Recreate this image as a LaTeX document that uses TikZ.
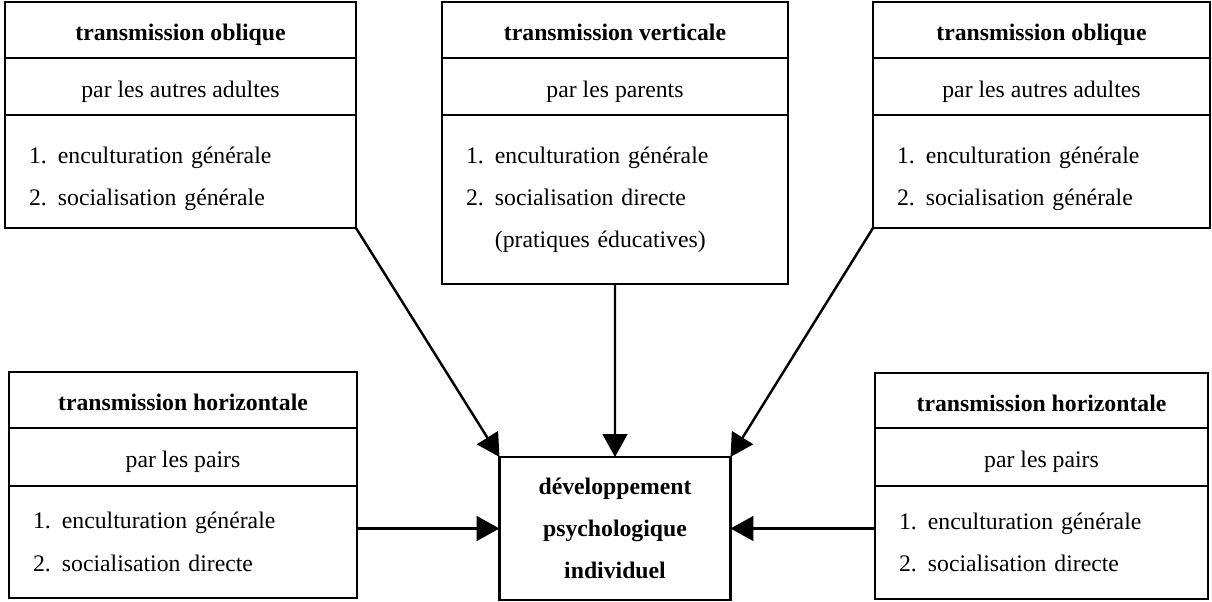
\documentclass[tikz,border=0pt]{standalone}
\usepackage{fontspec}
\setmainfont{Liberation Serif}
\usepackage{tikz}
\usetikzlibrary{positioning}
\usetikzlibrary{arrows.meta}
\newcommand{\numitem}[2]{\makebox[1.22em][l]{#1.}#2}

\begin{document}
\begin{tikzpicture}[font=\fontsize{13.5}{24}\selectfont]
\tikzset{
  every node/.style={outer sep=0pt},
  head/.style={draw,line width=1.4pt,inner sep=0pt,minimum height=1.12cm,text height=15.4pt,text depth=3pt,font=\fontsize{13.5}{24}\selectfont\bfseries},
  sub/.style={draw,line width=1.4pt,inner sep=0pt,minimum height=1.14cm,text height=15.4pt,text depth=3pt},
  lst/.style={draw,line width=1.4pt,inner xsep=0.48cm,inner ysep=0pt,align=left,minimum height=2.26cm},
  flow/.style={line width=1.4pt,-{Triangle[length=13pt,width=14pt]}}
}
\useasboundingbox (0,0) rectangle (24.24,-12.04);

% oblique, left
\node [head,anchor=north west,minimum width=7.02cm] (oblLt) at (0.10,-0.04) {transmission oblique};
\node [sub,minimum width=7.02cm,below=0pt of oblLt] (oblLs) {par les autres adultes};
\node [lst,text width=6.06cm,below=0pt of oblLs] (oblLl) {\rule{0pt}{17.5pt}\numitem{1}{enculturation générale}\\\numitem{2}{socialisation générale}};

% vertical
\node [head,anchor=north west,minimum width=6.92cm] (vertt) at (8.84,-0.04) {transmission verticale};
\node [sub,minimum width=6.92cm,below=0pt of vertt] (verts) {par les parents};
\node [lst,text width=5.96cm,minimum height=3.38cm,below=0pt of verts] (vertl) {\numitem{1}{enculturation générale}\\\numitem{2}{socialisation directe}\\\hspace*{1.22em}(pratiques éducatives)};

% oblique, right
\node [head,anchor=north west,minimum width=6.74cm] (oblRt) at (17.46,-0.04) {transmission oblique};
\node [sub,minimum width=6.74cm,below=0pt of oblRt] (oblRs) {par les autres adultes};
\node [lst,text width=5.78cm,below=0pt of oblRs] (oblRl) {\rule{0pt}{17.5pt}\numitem{1}{enculturation générale}\\\numitem{2}{socialisation générale}};

% horizontal, left
\node [head,anchor=north west,minimum width=6.96cm] (horLt) at (0.18,-7.44) {transmission horizontale};
\node [sub,minimum width=6.96cm,minimum height=1.16cm,below=0pt of horLt] (horLs) {par les pairs};
\node [lst,text width=6.00cm,minimum height=2.24cm,below=0pt of horLs] (horLl) {\numitem{1}{enculturation générale}\\\numitem{2}{socialisation directe}};

% horizontal, right
\node [head,anchor=north west,minimum width=6.66cm,minimum height=1.10cm] (horRt) at (17.50,-7.46) {transmission horizontale};
\node [sub,minimum width=6.66cm,minimum height=1.16cm,below=0pt of horRt] (horRs) {par les pairs};
\node [lst,text width=5.70cm,minimum height=2.26cm,below=0pt of horRs] (horRl) {\numitem{1}{enculturation générale}\\\numitem{2}{socialisation directe}};

% centre
\node [draw,line width=1.4pt,anchor=north west,align=center,inner sep=0pt,minimum width=4.62cm,minimum height=2.86cm,font=\fontsize{13.5}{24}\selectfont\bfseries] (dev) at (9.99,-9.14) {développement\\psychologique\\individuel};

\draw [flow] (oblLl.south east) -- (dev.north west);
\draw [flow] (vertl.south) -- (dev.north);
\draw [flow] (oblRl.south west) -- (dev.north east);
\draw [flow] (horLl.east |- dev.west) -- (dev.west);
\draw [flow] (horRl.west |- dev.east) -- (dev.east);
\end{tikzpicture}
\end{document}
